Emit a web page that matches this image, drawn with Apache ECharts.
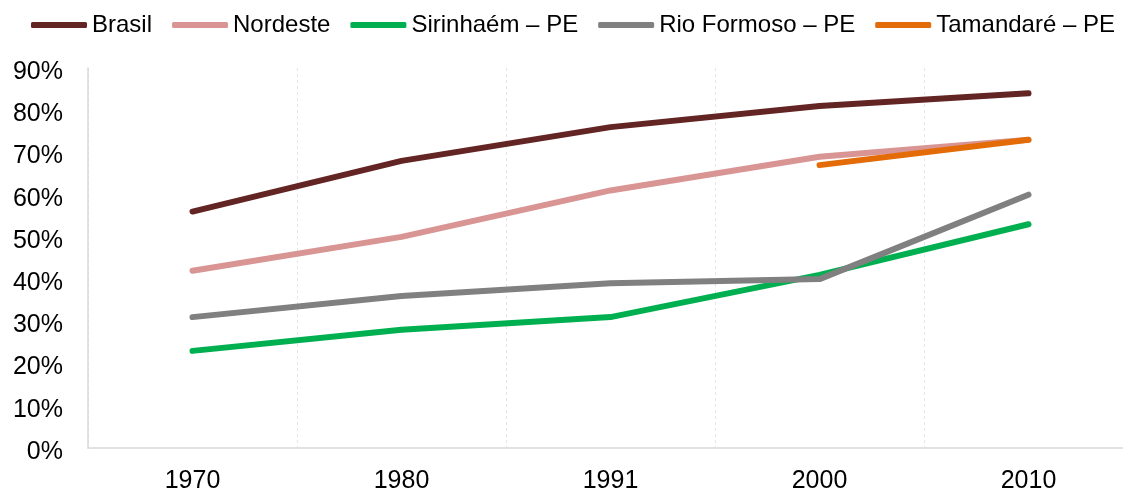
<!DOCTYPE html>
<html>
<head>
<meta charset="utf-8">
<script src="https://cdn.jsdelivr.net/npm/echarts@6/dist/echarts.min.js"></script>
<style>
  html, body { margin: 0; padding: 0; background: #fff; }
  #chart { width: 1123px; height: 491px; }
</style>
</head>
<body>
<div id="chart"></div>
<script>
// anos do censo
const years = ['1970', '1980', '1991', '2000', '2010'];

// taxa de urbanização (%)
const brasil = [56, 68, 76, 81, 84];
const nordeste = [42, 50, 61, 69, 73];
const sirinhaem = [23, 28, 31, 41, 53];
const rioFormoso = [31, 36, 39, 40, 60];
const tamandare = [null, null, null, 67, 73];

const seriesNames = ['Brasil', 'Nordeste', 'Sirinhaém – PE', 'Rio Formoso – PE', 'Tamandaré – PE'];
const seriesColors = ['#632523', '#d99594', '#00b050', '#808080', '#e36c09'];
const seriesData = [brasil, nordeste, sirinhaem, rioFormoso, tamandare];

const font = '"Liberation Sans", Arial, sans-serif';

let chart = echarts.init(document.getElementById('chart'));
chart.setOption({
  animation: false,
  textStyle: { fontFamily: font },
  legend: {
    top: 13,
    left: 31,
    width: 1100,
    padding: 0,
    icon: 'roundRect',
    itemWidth: 56,
    itemHeight: 6,
    itemGap: 20,
    textStyle: { fontSize: 24, color: '#000', fontFamily: font },
    data: seriesNames
  },
  grid: { left: 88, top: 68, width: 1045, bottom: 43, outerBoundsMode: 'none' },
  xAxis: {
    type: 'category',
    data: years,
    boundaryGap: true,
    axisLine: { lineStyle: { color: '#d9d9d9', width: 1.5 } },
    axisTick: { show: false },
    axisLabel: { fontSize: 25, color: '#000', margin: 21 },
    splitLine: { show: true, lineStyle: { color: '#e6e6e6', type: [3, 3], width: 1 } }
  },
  yAxis: {
    type: 'value',
    min: 0,
    max: 90,
    interval: 10,
    axisLine: { show: true, lineStyle: { color: '#d9d9d9', width: 1.5 } },
    axisTick: { show: false },
    splitLine: { show: false },
    axisLabel: {
      color: '#000',
      margin: 25,
      formatter: function (v) { return '{p|' + v + '%}'; },
      rich: { p: { fontSize: 25, color: '#000', fontFamily: font, padding: [8, 0, 0, 0] } }
    }
  },
  series: seriesData.map(function (d, i) {
    return {
      name: seriesNames[i],
      type: 'line',
      data: d,
      symbol: 'none',
      color: seriesColors[i],
      lineStyle: { width: 6, color: seriesColors[i], cap: 'round', join: 'round' }
    };
  })
});
window.onresize = function () {
  chart.resize();
};
</script>
</body>
</html>
